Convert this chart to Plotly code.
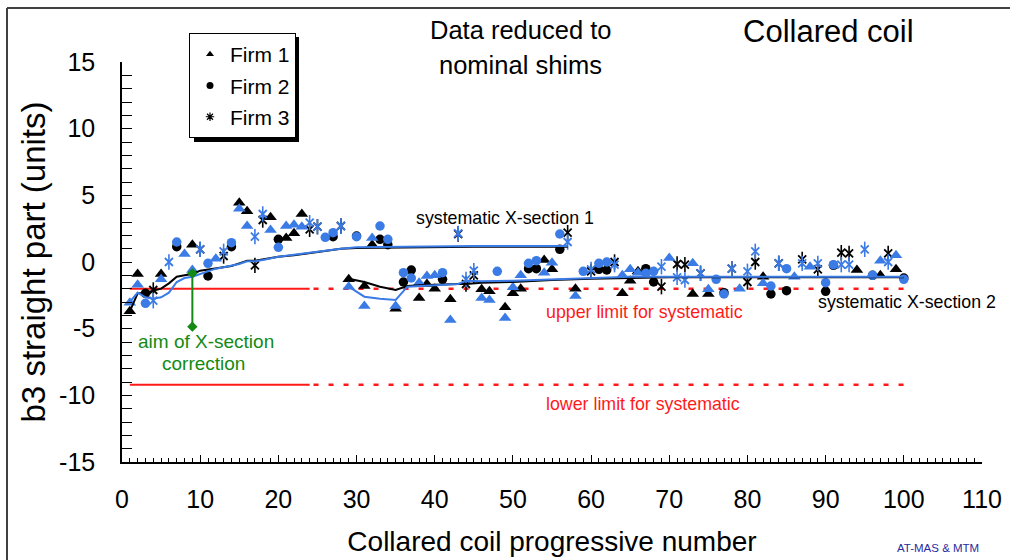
import plotly.graph_objects as go

# ---------------- data ----------------
# Firm 1 (triangles)
f1_black_x = [1, 2, 5, 9, 15, 16, 19, 21, 22, 23, 32, 29, 31, 35, 38, 39, 40, 42, 46, 47, 49, 50, 51, 54, 55, 58, 64, 65, 66, 73, 75, 82, 94, 97, 99]
f1_black_y = [-3.7, -0.9, -0.9, 1.3, 4.45, 3.8, 3.35, 1.8, 2.15, 3.6, 1.3, -1.3, -1.8, -3.5, -2.7, -1.65, -2.0, -2.8, -2.05, -2.2, -3.4, -2.35, -2.0, 0.15, -0.55, -2.0, -2.35, -1.4, -0.7, -2.4, -2.4, -1.1, -0.6, -1.0, -0.55]
f1_blue_x = [1, 2, 5, 8, 9, 12, 15, 16, 19, 21, 22, 23, 32, 29, 31, 35, 38, 39, 40, 42, 46, 47, 49, 50, 51, 54, 55, 58, 64, 65, 66, 70, 73, 75, 79, 82, 86, 88, 97, 99]
f1_blue_y = [-3.05, -1.7, -1.3, 0.6, -0.6, 0.25, 4.0, 2.7, 2.4, 2.7, 2.8, 2.65, 1.8, -1.85, -3.3, -3.3, -1.55, -1.05, -1.0, -4.35, -2.7, -2.85, -4.2, -1.9, -1.0, -0.8, -0.05, -2.55, -1.0, -0.55, -0.8, 0.3, -0.1, -2.05, -2.0, -1.6, -1.1, -0.35, 0.1, 0.5]

# Firm 2 (circles)
f2_black_x = [3, 7, 11, 14, 20, 27, 30, 33, 34, 36, 37, 41, 52, 53, 56, 61, 62, 67, 68, 77, 83, 85, 90, 91, 96, 100]
f2_black_y = [-2.35, 1.15, -1.05, 1.15, 1.7, 1.9, 1.95, 1.7, 1.3, -1.5, -0.6, -1.3, -0.5, -0.5, 0.95, -0.55, -0.6, -0.5, -1.5, -2.3, -2.4, -2.15, -2.2, -0.25, -1.0, -1.2]
f2_blue_x = [3, 7, 11, 14, 20, 26, 27, 30, 33, 34, 36, 37, 41, 48, 52, 53, 56, 59, 61, 62, 67, 68, 76, 77, 83, 85, 90, 91, 96, 100]
f2_blue_y = [-3.1, 1.5, -0.1, 1.45, 1.1, 1.85, 2.2, 1.9, 2.7, 1.7, -0.8, -1.2, -0.8, -0.7, -0.1, 0.1, 2.1, -0.7, -0.1, 0.0, -0.85, -0.7, -1.3, -2.4, -1.8, -0.5, -1.55, -0.2, -1.0, -1.3]

# Firm 3 (asterisks)
f3_black_x = [4, 10, 13, 17, 18, 24, 25, 28, 43, 44, 45, 57, 60, 63, 69, 71, 72, 74, 78, 80, 81, 84, 87, 89, 92, 93, 98]
f3_black_y = [-2.1, 0.95, 0.45, -0.25, 3.15, 2.45, 2.65, 2.7, 2.1, -1.65, -1.0, 2.2, -0.7, 0.0, -1.85, -0.15, -0.2, -0.85, -0.5, -1.5, 0.0, -0.1, 0.2, -0.55, 0.7, 0.65, 0.65]
f3_blue_x = [4, 6, 10, 13, 17, 18, 24, 25, 28, 43, 44, 45, 57, 60, 63, 69, 71, 72, 74, 78, 80, 81, 84, 87, 89, 92, 93, 95, 98]
f3_blue_y = [-2.9, 0.0, 0.95, 0.8, 1.9, 3.6, 2.95, 2.65, 2.7, 2.15, -1.3, -0.65, 1.5, -0.55, -0.2, -0.35, -1.15, -1.35, -0.85, -0.5, -0.7, 0.8, -0.1, -0.1, -0.1, -0.2, -0.2, 0.95, 0.0]

# systematic X-section 1 (running averages)
sys1_x = [1, 2, 3, 4, 5, 6, 7, 8, 9, 10, 11, 12, 13, 14, 15, 16, 17, 18, 19, 20, 22, 24, 26, 28, 30, 35, 40, 45, 50, 57]
sys1_black = [-3.7, -2.35, -2.3, -2.15, -2.0, -1.6, -1.1, -1.0, -0.9, -0.65, -0.55, -0.5, -0.4, -0.3, -0.1, 0.1, 0.1, 0.2, 0.3, 0.4, 0.5, 0.65, 0.85, 1.0, 1.05, 1.1, 1.15, 1.15, 1.15, 1.15]
sys1_blue = [-3.0, -2.3, -2.65, -2.75, -2.65, -2.3, -1.5, -1.2, -1.1, -0.9, -0.7, -0.5, -0.4, -0.3, -0.15, 0.05, 0.05, 0.15, 0.3, 0.4, 0.55, 0.7, 0.9, 1.0, 1.1, 1.15, 1.2, 1.2, 1.2, 1.2]

# systematic X-section 2
sys2_x = [29, 31, 33, 35, 36.5, 38, 43, 44, 46, 50, 55, 57, 60, 65, 70, 80, 90, 100]
sys2_black = [-1.25, -1.5, -1.85, -2.1, -1.8, -1.75, -1.65, -1.65, -1.55, -1.5, -1.35, -1.3, -1.25, -1.2, -1.15, -1.15, -1.15, -1.15]
sys2_blue = [-1.85, -2.6, -2.75, -2.85, -1.85, -1.8, -1.65, -1.4, -1.45, -1.4, -1.3, -1.25, -1.2, -1.1, -1.1, -1.1, -1.05, -1.1]

# limits for systematic
limit_solid_x = [1, 24]
limit_dot_x = [24.5, 100]
upper_limit = -2.0
lower_limit = -9.2

# aim of X-section correction
aim_x = [9, 9]
aim_y = [-0.85, -4.85]

legend_names = ["Firm 1", "Firm 2", "Firm 3"]
y_tickvals = [-15, -10, -5, 0, 5, 10, 15]
y_ticktext = ["-15", "-10", "-5", "0", "5", "10", "15"]

# ---------------- styling ----------------
BLUE = "#3b7be6"
BLACK = "#000000"
RED = "#ff1a1a"
GREEN = "#138a13"
FONT = "Liberation Sans, Arial, sans-serif"

W, H = 1010, 560
L, R, T, B = 122, 28, 62, 98


def px2paper(px, py):
    return (px - L) / (W - L - R), (H - B - py) / (H - T - B)


fig = go.Figure()

# limit lines
for lv in (upper_limit, lower_limit):
    fig.add_trace(go.Scatter(x=limit_solid_x, y=[lv, lv], mode="lines",
                             line=dict(color=RED, width=2), showlegend=False, hoverinfo="skip"))
    fig.add_trace(go.Scatter(x=limit_dot_x, y=[lv, lv], mode="lines",
                             line=dict(color=RED, width=2.5, dash="5px,10px"), showlegend=False, hoverinfo="skip"))


def add_points(xs, ys, color, kind):
    if kind == "tri":
        fig.add_trace(go.Scatter(x=xs, y=ys, mode="markers", showlegend=False,
                                 marker=dict(symbol="triangle-up", size=11, color=color)))
    elif kind == "circ":
        fig.add_trace(go.Scatter(x=xs, y=ys, mode="markers", showlegend=False,
                                 marker=dict(symbol="circle", size=9.5, color=color)))
    else:
        fig.add_trace(go.Scatter(x=xs, y=ys, mode="markers", showlegend=False,
                                 marker=dict(symbol="x-thin-open", size=8, color=color,
                                             line=dict(color=color, width=1.8))))
        fig.add_trace(go.Scatter(x=xs, y=ys, mode="markers", showlegend=False,
                                 marker=dict(symbol="line-ns-open", size=11, color=color,
                                             line=dict(color=color, width=1.6))))


add_points(f1_black_x, f1_black_y, BLACK, "tri")
add_points(f2_black_x, f2_black_y, BLACK, "circ")
add_points(f3_black_x, f3_black_y, BLACK, "ast")
add_points(f1_blue_x, f1_blue_y, BLUE, "tri")
add_points(f2_blue_x, f2_blue_y, BLUE, "circ")
add_points(f3_blue_x, f3_blue_y, BLUE, "ast")

# systematic lines
fig.add_trace(go.Scatter(x=sys1_x, y=sys1_black, mode="lines", line=dict(color=BLACK, width=2), showlegend=False))
fig.add_trace(go.Scatter(x=sys1_x, y=sys1_blue, mode="lines", line=dict(color=BLUE, width=2), showlegend=False))
fig.add_trace(go.Scatter(x=sys2_x, y=sys2_black, mode="lines", line=dict(color=BLACK, width=2), showlegend=False))
fig.add_trace(go.Scatter(x=sys2_x, y=sys2_blue, mode="lines", line=dict(color=BLUE, width=2), showlegend=False))

# aim of correction
fig.add_trace(go.Scatter(x=aim_x, y=aim_y, mode="lines+markers", showlegend=False,
                         line=dict(color=GREEN, width=2),
                         marker=dict(symbol="diamond", size=8, color=GREEN)))

# legend entries
legend_symbols = ["triangle-up", "circle", "asterisk-open"]
for i, (nm, sym) in enumerate(zip(legend_names, legend_symbols)):
    mk = dict(symbol=sym, size=7, color=BLACK)
    if sym == "asterisk-open":
        mk["line"] = dict(color=BLACK, width=1.2)
    fig.add_trace(go.Scatter(x=[None], y=[None], mode="markers", name=nm,
                             legendgroup=f"g{i}", marker=mk))


# annotations (positions in pixels of the 1010x560 picture)
def ann(text, px, py, size, color=BLACK):
    x, y = px2paper(px, py)
    fig.add_annotation(text=text, x=x, y=y, xref="paper", yref="paper", showarrow=False,
                       xanchor="center", yanchor="middle",
                       font=dict(family=FONT, size=size, color=color))


ann("Data reduced to", 520, 30, 25.5)
ann("nominal shims", 520, 65, 25.5)
ann("Collared coil", 828, 31, 31)
ann("systematic X-section 1", 505, 218, 17.8)
ann("systematic X-section 2", 907, 302, 17.8)
ann("upper limit for systematic", 644, 312, 17.8, RED)
ann("lower limit for systematic", 643, 404, 17.8, RED)
ann("aim of X-section", 206, 341, 19, GREEN)
ann("correction", 203, 363, 19, GREEN)
ann("AT-MAS &amp; MTM", 938, 548, 11.5, "#2b2b9e")

# legend shadow + figure frame
sx0, sy1 = px2paper(194, 37)
sx1, sy0 = px2paper(299, 142)
fig.add_shape(type="rect", xref="paper", yref="paper", x0=sx0, x1=sx1, y0=sy0, y1=sy1,
              fillcolor="black", line=dict(width=0))
fx0, fy1 = px2paper(7, 8)
fx1, _ = px2paper(1012, 8)
_, fy0 = px2paper(7, 562)
fig.add_shape(type="line", xref="paper", yref="paper", x0=fx0, x1=fx1, y0=fy1, y1=fy1,
              line=dict(color="#404040", width=2))
fig.add_shape(type="line", xref="paper", yref="paper", x0=fx0, x1=fx0, y0=fy0, y1=fy1,
              line=dict(color="#404040", width=2))

lx, ly = px2paper(189, 33)
fig.update_layout(
    width=W, height=H,
    margin=dict(l=L, r=R, t=T, b=B, pad=0, autoexpand=False),
    paper_bgcolor="white", plot_bgcolor="white",
    font=dict(family=FONT, color=BLACK),
    showlegend=True,
    legend=dict(x=lx, y=ly, xanchor="left", yanchor="top",
                bgcolor="white", bordercolor="black", borderwidth=1,
                font=dict(family=FONT, size=21), tracegroupgap=1),
    xaxis=dict(range=[0, 110], dtick=10, tick0=0, ticks="inside", ticklen=7, tickwidth=1,
               tickcolor=BLACK, showline=True, linecolor=BLACK, linewidth=1.5,
               showgrid=False, zeroline=False, ticklabelstandoff=14, automargin=False,
               tickfont=dict(family=FONT, size=25),
               minor=dict(dtick=1, ticks="inside", ticklen=4, tickcolor=BLACK, showgrid=False),
               title=dict(text="Collared coil progressive number", standoff=20,
                          font=dict(family=FONT, size=28))),
    yaxis=dict(range=[-15, 15], tickmode="array", tickvals=y_tickvals, ticktext=y_ticktext,
               ticks="inside", ticklen=10, tickwidth=1, automargin=False,
               tickcolor=BLACK, showline=True, linecolor=BLACK, linewidth=1.5,
               showgrid=False, zeroline=False, ticklabelstandoff=20,
               tickfont=dict(family=FONT, size=25),
               minor=dict(dtick=1, tick0=0, ticks="inside", ticklen=10, tickcolor=BLACK, showgrid=False),
               title=dict(text="b3 straight part (units)", standoff=4,
                          font=dict(family=FONT, size=33))),
)

fig.write_html("out.html")
